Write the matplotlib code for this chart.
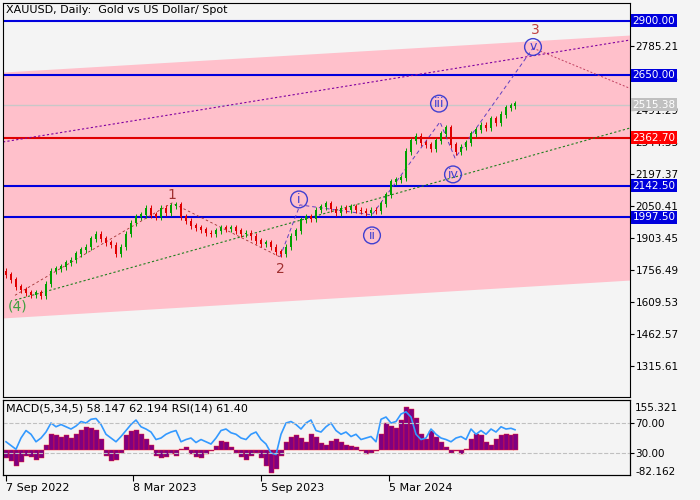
import numpy as np
import matplotlib
matplotlib.use('Agg')
import matplotlib.pyplot as plt
from matplotlib.transforms import blended_transform_factory

# Valori settimanali letti a occhio (x = indice barra, circa 1 px per giorno)
bar_x = [3, 8, 13, 18, 23, 28, 33, 38, 43, 48, 53, 58, 63, 68, 73, 78, 83, 88, 93, 98,
         103, 108, 113, 118, 123, 128, 133, 138, 143, 148, 153, 158, 163, 168, 173, 178, 183, 188, 193, 198,
         203, 208, 213, 218, 223, 228, 233, 238, 243, 248, 253, 258, 263, 268, 273, 278, 283, 288, 293, 298,
         303, 308, 313, 318, 323, 328, 333, 338, 343, 348, 353, 358, 363, 368, 373, 378, 383, 388, 393, 398,
         403, 408, 413, 418, 423, 428, 433, 438, 443, 448, 453, 458, 463, 468, 473, 478, 483, 488, 493, 498,
         503, 508, 512]
closes = [1735, 1710, 1680, 1665, 1650, 1640, 1650, 1635, 1690, 1750, 1760, 1770, 1790, 1800, 1830, 1850, 1860, 1900, 1920, 1900,
          1880, 1870, 1830, 1860, 1920, 1970, 2000, 2010, 2040, 2010, 2000, 2040, 2020, 2050, 2055, 2000, 1980, 1960, 1950, 1940,
          1925, 1920, 1935, 1950, 1945, 1950, 1935, 1920, 1925, 1910, 1890, 1875, 1880, 1860, 1840, 1830, 1860, 1910, 1935, 1985,
          2000, 1990, 2030, 2045, 2060, 2035, 2020, 2040, 2030, 2045, 2030, 2025, 2020, 2030, 2025, 2060, 2100, 2160, 2170, 2180,
          2300, 2350, 2370, 2340, 2330, 2310, 2350, 2380, 2410, 2330, 2300, 2320, 2340, 2380, 2400, 2420, 2410, 2450, 2430, 2470,
          2500, 2510, 2520]
macd = [-30, -40, -60, -45, -20, -25, -35, -30, 20, 60, 55, 50, 55, 45, 60, 75, 85, 80, 75, 40,
        -20, -40, -35, -10, 55, 70, 75, 60, 40, 20, -20, -30, -25, -15, -20, 5, 10, -15, -25, -30,
        -15, -5, 15, 35, 30, 10, -10, -25, -35, -20, -10, -30, -60, -85, -70, -20, 30, 50, 55, 45,
        30, 60, 50, 25, 20, 35, 40, 30, 20, 15, 10, -5, -15, -10, -5, 60, 100, 90, 80, 110,
        160, 150, 120, 60, 40, 70, 50, 30, 10, -10, -5, -15, 5, 40, 60, 55, 30, 20, 40, 55,
        60, 55, 58]
rsi = [45, 40, 35, 50, 60, 55, 45, 50, 58, 70, 65, 68, 65, 62, 66, 72, 70, 75, 76, 68,
       55, 50, 45, 52, 60, 68, 74, 65, 62, 58, 48, 50, 55, 58, 60, 45, 48, 50, 44, 48,
       45, 42, 50, 60, 62, 57, 55, 50, 48, 55, 58, 48, 42, 30, 28, 55, 70, 72, 68, 62,
       70, 74, 60, 58, 65, 70, 60, 55, 58, 52, 55, 48, 50, 52, 45, 75, 78, 70, 72, 82,
       85, 78, 55, 48, 50, 62, 55, 50, 48, 45, 50, 52, 48, 62, 55, 60, 55, 62, 58, 65,
       62, 63, 61]

levels_blue = [2900.0, 2650.0, 2142.5, 1997.5]
level_red = 2362.7
last_price = 2515.38
yticks = [2785.21, 2638.25, 2491.29, 2344.33, 2197.37, 2050.41, 1903.45, 1756.49, 1609.53, 1462.57, 1315.61]
date_x = [3, 130, 258, 386]
date_lab = ['7 Sep 2022', '8 Mar 2023', '5 Sep 2023', '5 Mar 2024']

# canale e linee d'onda (x, prezzo)
chan_x = [0, 627]
chan_top = [2665, 2835]
chan_bot = [1536, 1710]
purple_dot = ([0, 627], [2344, 2812])
green_dot = ([12, 627], [1618, 2408])
wave_red = ([12, 169, 277], [1640, 2064, 1816])
wave_purple = ([277, 297, 369, 437, 452, 530], [1816, 2055, 2009, 2436, 2270, 2775])
wave_future = ([530, 627], [2775, 2590])

bg = '#f4f4f4'
fig = plt.figure(figsize=(7, 5), dpi=100, facecolor=bg)
ax = fig.add_axes([3/700, 1-397/500, 627/700, 394/500], facecolor=bg)
ax2 = fig.add_axes([3/700, 1-475/500, 627/700, 75/500], facecolor=bg)

ax.set_xlim(0, 627)
ax.set_ylim(1173, 2982)
ax.fill_between(chan_x, chan_bot, chan_top, color='#ffc0cb', lw=0, zorder=0)

for lv in levels_blue:
    ax.axhline(lv, color='#0000dd', lw=1.5, zorder=2)
ax.axhline(level_red, color='#e00000', lw=1.5, zorder=2)
ax.axhline(last_price, color='#c8c8c8', lw=1, zorder=1)

ax.plot(*purple_dot, color='#8000a0', lw=0.8, ls=(0, (2, 2)), zorder=2)
ax.plot(*green_dot, color='#208020', lw=0.8, ls=(0, (2, 2)), zorder=2)
ax.plot(*wave_red, color='#a03030', lw=0.6, ls=(0, (3, 3)), zorder=2)
ax.plot(*wave_purple, color='#6040c0', lw=0.7, ls=(0, (4, 3)), zorder=2)
ax.plot(*wave_future, color='#c04060', lw=0.7, ls=(0, (2, 2)), zorder=2)

# candele
prev = closes[0] + 15
for x, c in zip(bar_x, closes):
    o = prev
    col = '#00a000' if c >= o else '#e00000'
    hi = max(o, c) + 14
    lo = min(o, c) - 14
    ax.vlines(x, lo, hi, color=col, lw=0.7, zorder=3)
    ax.bar(x, abs(c - o) + 3, width=2.2, bottom=min(o, c), color=col, zorder=3)
    prev = c

# etichette onde
ax.text(15, 1590, '(4)', color='#40a040', fontsize=10, ha='center', va='center')
ax.text(169, 2100, '1', color='#a03030', fontsize=10, ha='center', va='center')
ax.text(277, 1760, '2', color='#a03030', fontsize=10, ha='center', va='center')
ax.text(532, 2860, '3', color='#c04040', fontsize=10, ha='center', va='center')
for lab, x, y in [('i', 296, 2080), ('ii', 369, 1915), ('iii', 436, 2520), ('iv', 450, 2195), ('v', 530, 2780)]:
    ax.text(x, y, lab, color='#4040d0', fontsize=9, ha='center', va='center',
            bbox=dict(boxstyle='circle,pad=0.15', fc='none', ec='#4040d0', lw=1))

ax.text(0.005, 0.995, 'XAUUSD, Daily:  Gold vs US Dollar/ Spot', transform=ax.transAxes,
        fontsize=8, va='top', ha='left')

ax.set_xticks([])
ax.yaxis.tick_right()
ax.set_yticks(yticks)
ax.set_yticklabels(['%.2f' % t for t in yticks], fontsize=7.5)
ax.tick_params(axis='y', length=3, pad=1)

tr = blended_transform_factory(ax.transAxes, ax.transData)
for lv, fc in [(2900.0, '#0000dd'), (2650.0, '#0000dd'), (last_price, '#c0c0c0'),
               (level_red, '#ff0000'), (2142.5, '#0000dd'), (1997.5, '#0000dd')]:
    ax.text(1.004, lv, '%.2f' % lv, transform=tr, fontsize=7.5, color='white', va='center', ha='left',
            bbox=dict(boxstyle='square,pad=0.15', fc=fc, ec='none'), clip_on=False, zorder=5)

# pannello MACD/RSI
ax2.set_xlim(0, 627)
ax2.set_ylim(-92, 185)
ax2.bar(bar_x, macd, width=5, color='#800080', edgecolor='#ff2020', lw=0.3)
ax3 = ax2.twinx()
ax3.set_ylim(0.7, 100.7)
ax3.plot(bar_x, rsi, color='#3399ff', lw=1.2)
ax3.axhline(70, color='#c0c0c0', lw=0.8, ls='--')
ax3.axhline(30, color='#c0c0c0', lw=0.8, ls='--')
ax2.set_yticks([])
ax3.set_yticks([70, 30])
ax3.set_yticklabels(['70.00', '30.00'], fontsize=7.5)
ax3.tick_params(axis='y', length=3, pad=1)
ax2.text(1.008, 155.321, '155.321', transform=blended_transform_factory(ax2.transAxes, ax2.transData),
         fontsize=7.5, va='center')
ax2.text(1.008, -82.162, '-82.162', transform=blended_transform_factory(ax2.transAxes, ax2.transData),
         fontsize=7.5, va='center')
ax2.text(0.005, 0.95, 'MACD(5,34,5) 58.147 62.194 RSI(14) 61.40', transform=ax2.transAxes,
         fontsize=8, va='top')
ax2.set_xticks(date_x)
ax2.set_xticklabels(date_lab, fontsize=8, ha='left')
ax2.tick_params(axis='x', length=4, pad=2)

fig.savefig('out.png', dpi=100, facecolor=bg)
